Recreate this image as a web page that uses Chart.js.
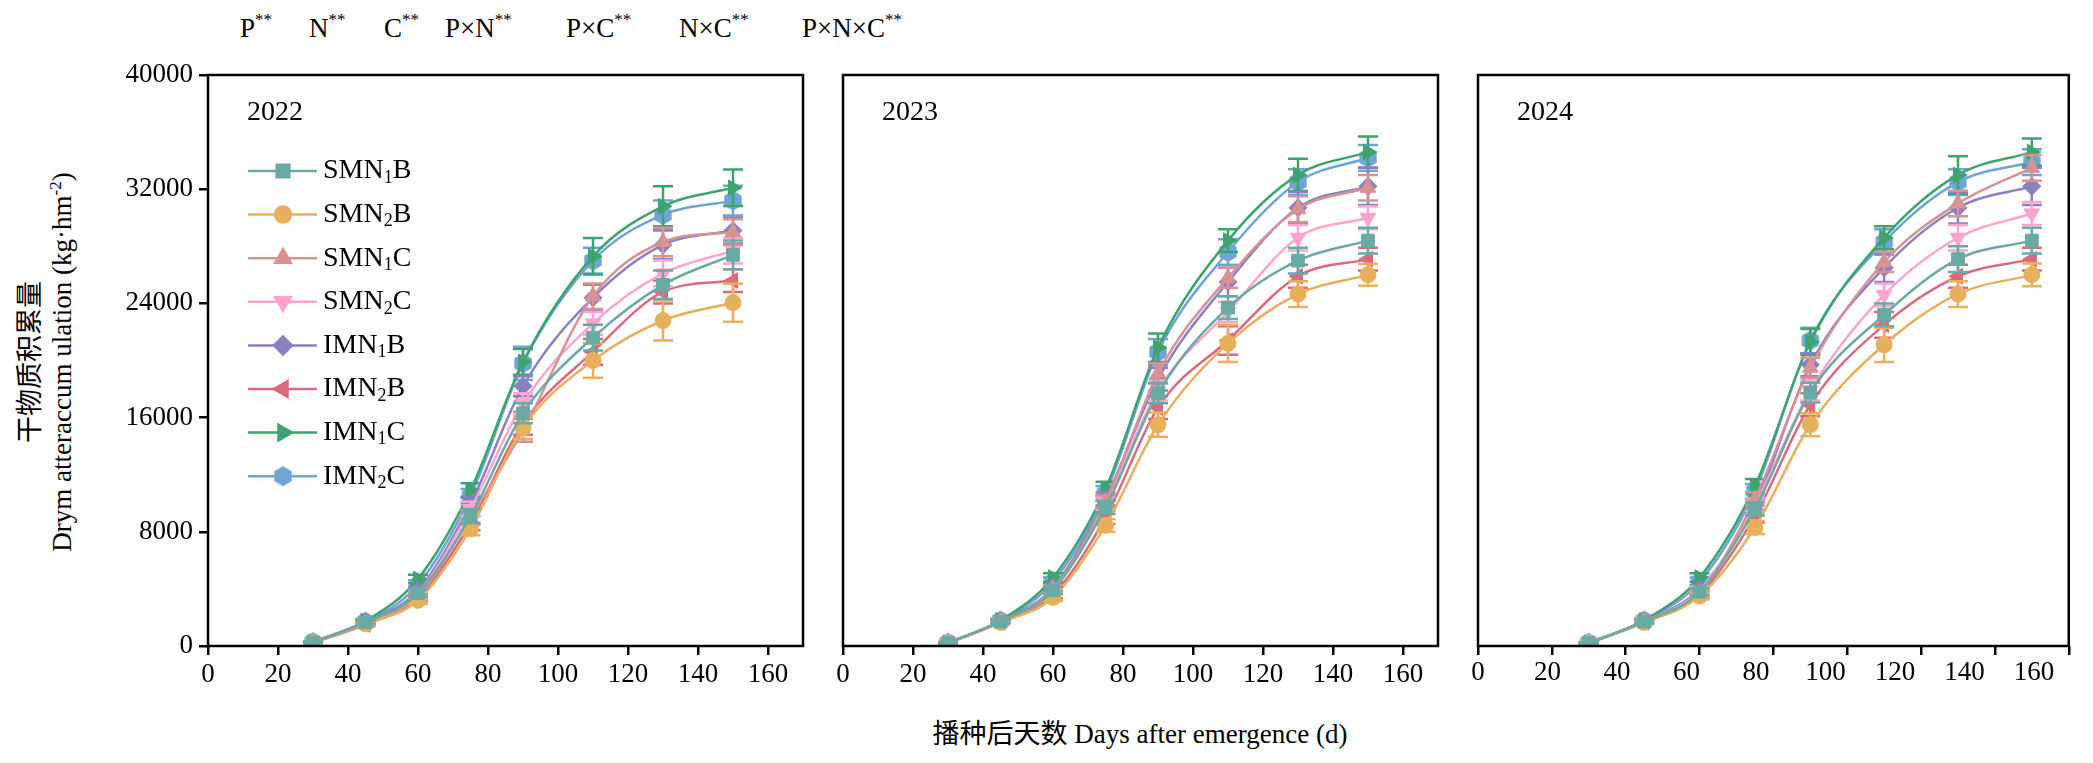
<!DOCTYPE html>
<html>
<head>
<meta charset="utf-8">
<script src="https://cdn.jsdelivr.net/npm/chart.js@4.4.1/dist/chart.umd.min.js"></script>
<style>
body { margin: 0; background: #fff; width: 2093px; height: 763px; position: relative; overflow: hidden;
       font-family: "Liberation Serif", "Noto Sans CJK SC", serif; color: #000; }
canvas { position: absolute; top: 0; }
.note { position: absolute; top: 12px; font-size: 27px; white-space: nowrap; }
.note sup { font-size: 17px; position: relative; top: -2px; }
.ytitle { position: absolute; font-size: 27px; white-space: nowrap; transform: translate(-50%, -50%) rotate(-90deg); top: 362px; }
.ytitle sup { font-size: 17px; }
.xtitle { position: absolute; font-size: 27px; white-space: nowrap; left: 1140px; top: 731px; transform: translate(-50%, -50%); }
</style>
</head>
<body>
<div class="note" style="left:240px">P<sup>**</sup></div>
<div class="note" style="left:309px">N<sup>**</sup></div>
<div class="note" style="left:384px">C<sup>**</sup></div>
<div class="note" style="left:445px">P×N<sup>**</sup></div>
<div class="note" style="left:566px">P×C<sup>**</sup></div>
<div class="note" style="left:679px">N×C<sup>**</sup></div>
<div class="note" style="left:802px">P×N×C<sup>**</sup></div>
<div class="ytitle" style="left:27px">干物质积累量</div>
<div class="ytitle" style="left:62px">Drym atteraccum ulation (kg·hm<sup>-2</sup>)</div>
<div class="xtitle">播种后天数 Days after emergence (d)</div>

<canvas id="c2022" width="830" height="763" style="left:0px;width:830px;height:763px"></canvas>
<canvas id="c2023" width="630" height="763" style="left:830px;width:630px;height:763px"></canvas>
<canvas id="c2024" width="628" height="763" style="left:1465px;width:628px;height:763px"></canvas>

<script>
// sampling days and axis ticks
const days = [30, 45, 60, 75, 90, 110, 130, 150];
const xTicks = [0, 20, 40, 60, 80, 100, 120, 140, 160];
const yTicks = [0, 8000, 16000, 24000, 32000, 40000];

const names = ['SMN1B', 'SMN2B', 'SMN1C', 'SMN2C', 'IMN1B', 'IMN2B', 'IMN1C', 'IMN2C'];
const colors = ['#6aaaa4', '#e9b05c', '#d99294', '#ffa3cf', '#8a80c2', '#dc6a7e', '#3ea46e', '#6da6d6'];

// rows follow the order of names
const mean2022 = [
  [250, 1650, 3700, 9100, 16300, 21600, 25300, 27400],
  [230, 1550, 3200, 8200, 15300, 20000, 22800, 24050],
  [260, 1600, 3500, 9000, 15100, 24500, 28300, 29000],
  [240, 1600, 3700, 9600, 17000, 22600, 26100, 27700],
  [260, 1700, 3900, 9950, 18200, 24400, 28100, 29100],
  [230, 1500, 3400, 8600, 15600, 20600, 24800, 25600],
  [280, 1750, 4700, 10900, 19900, 27300, 30800, 32100],
  [270, 1700, 4300, 10500, 19800, 27000, 30200, 31200]
];
const sd2022 = [
  [60, 120, 250, 500, 700, 900, 1000, 1000],
  [60, 120, 250, 450, 800, 1200, 1400, 1330],
  [60, 120, 250, 500, 800, 900, 1000, 900],
  [60, 120, 250, 500, 700, 800, 900, 900],
  [60, 120, 250, 500, 700, 900, 1000, 900],
  [60, 120, 250, 500, 800, 900, 800, 800],
  [60, 120, 300, 500, 900, 1280, 1400, 1280],
  [60, 120, 300, 500, 1170, 900, 1000, 1050]
];
const mean2023 = [
  [200, 1700, 3900, 9700, 17700, 23700, 27000, 28400],
  [190, 1650, 3400, 8450, 15500, 21200, 24650, 26000],
  [210, 1700, 4000, 10100, 19100, 25800, 30600, 32100],
  [200, 1700, 3900, 10000, 17900, 23400, 28600, 30000],
  [210, 1750, 4100, 10300, 18700, 25500, 30700, 32200],
  [190, 1650, 3600, 9000, 16700, 21400, 25900, 27100],
  [230, 1800, 4800, 11000, 20900, 28400, 33000, 34600],
  [220, 1780, 4500, 10700, 20600, 27600, 32500, 34200]
];
const sd2023 = [
  [50, 100, 250, 450, 700, 800, 900, 900],
  [50, 100, 250, 450, 850, 1300, 900, 760],
  [50, 100, 250, 450, 700, 700, 900, 900],
  [50, 100, 250, 450, 700, 700, 900, 800],
  [50, 100, 250, 450, 800, 1000, 1100, 1300],
  [50, 100, 250, 450, 800, 1000, 800, 800],
  [50, 100, 300, 500, 1000, 800, 1130, 1100],
  [50, 100, 300, 500, 900, 900, 900, 900]
];
const mean2024 = [
  [200, 1700, 3800, 9600, 17750, 23200, 27100, 28400],
  [190, 1650, 3500, 8300, 15500, 21100, 24650, 26000],
  [210, 1700, 3700, 10300, 19500, 26900, 31000, 33500],
  [200, 1700, 3900, 9900, 17900, 24600, 28600, 30300],
  [210, 1750, 4000, 9850, 19700, 26500, 30700, 32200],
  [190, 1650, 3600, 9100, 16900, 22500, 25900, 27100],
  [230, 1800, 4800, 11200, 21300, 28600, 33000, 34600],
  [220, 1780, 4500, 10850, 21400, 28300, 32500, 33900]
];
const sd2024 = [
  [50, 100, 250, 450, 700, 800, 900, 900],
  [50, 100, 250, 450, 800, 1200, 900, 800],
  [50, 100, 250, 450, 700, 700, 900, 900],
  [50, 100, 250, 450, 700, 800, 900, 800],
  [50, 100, 250, 450, 800, 1000, 1100, 1300],
  [50, 100, 250, 450, 800, 900, 800, 800],
  [50, 100, 300, 500, 900, 800, 1300, 950],
  [50, 100, 300, 500, 900, 900, 900, 900]
];

const FONT = '"Liberation Serif", "Noto Sans CJK SC", serif';
Chart.defaults.font.family = FONT;
Chart.defaults.color = '#000';

function hexagon(color, r) {
  const c = document.createElement('canvas');
  c.width = c.height = 2 * r + 2;
  const g = c.getContext('2d');
  g.fillStyle = color;
  g.beginPath();
  for (let k = 0; k < 6; k++) {
    const a = Math.PI / 3 * k - Math.PI / 2;
    const px = r + 1 + r * Math.cos(a), py = r + 1 + r * Math.sin(a);
    k ? g.lineTo(px, py) : g.moveTo(px, py);
  }
  g.closePath();
  g.fill();
  return c;
}

const pointStyles = ['rect', 'circle', 'triangle', 'triangle', 'rectRot', 'triangle', 'triangle', hexagon(colors[7], 10)];
const rotations = [0, 0, 0, 180, 0, 270, 90, 0];

function buildDatasets(means, sds) {
  return names.map((n, i) => ({
    label: n,
    data: days.map((d, j) => ({ x: d, y: means[i][j] })),
    sd: sds[i],
    borderColor: colors[i],
    backgroundColor: colors[i],
    pointBorderColor: colors[i],
    pointBackgroundColor: colors[i],
    pointStyle: pointStyles[i],
    pointRotation: rotations[i],
    pointRadius: i === 1 ? 8 : 9,
    pointBorderWidth: 1,
    borderWidth: 2.5,
    cubicInterpolationMode: 'monotone'
  }));
}

// error bars, box, year text, legend
const decor = {
  id: 'decor',
  beforeDatasetDraw(chart, args) {
    const ds = chart.data.datasets[args.index];
    const ys = chart.scales.y, ctx = chart.ctx;
    ctx.save();
    ctx.strokeStyle = ds.borderColor;
    ctx.lineWidth = 2.5;
    args.meta.data.forEach((pt, j) => {
      const v = ds.data[j].y, e = ds.sd[j];
      const t = ys.getPixelForValue(v + e), b = ys.getPixelForValue(v - e);
      ctx.beginPath();
      ctx.moveTo(pt.x, t); ctx.lineTo(pt.x, b);
      ctx.moveTo(pt.x - 10, t); ctx.lineTo(pt.x + 10, t);
      ctx.moveTo(pt.x - 10, b); ctx.lineTo(pt.x + 10, b);
      ctx.stroke();
    });
    ctx.restore();
  },
  afterDraw(chart, args, opts) {
    const a = chart.chartArea, ctx = chart.ctx;
    ctx.save();
    ctx.strokeStyle = '#000';
    ctx.lineWidth = 2.5;
    ctx.strokeRect(a.left, a.top, a.right - a.left, a.bottom - a.top);
    ctx.fillStyle = '#000';
    ctx.font = '28px ' + FONT;
    ctx.textBaseline = 'middle';
    ctx.textAlign = 'left';
    ctx.fillText(opts.year, a.left + 39, a.top + 38);

    if (opts.labelSpan) {
      const xs = chart.scales.x;
      ctx.font = '27px ' + FONT;
      ctx.textAlign = 'center';
      ctx.textBaseline = 'top';
      xTicks.forEach(v => {
        ctx.fillText(String(v), a.left + v / opts.labelSpan * (a.right - a.left), xs.top + 13);
      });
    }

    if (opts.legend) {
      chart.data.datasets.forEach((ds, i) => {
        const y = a.top + 96 + i * 43.6;
        const x0 = a.left + 40;
        ctx.strokeStyle = ds.borderColor;
        ctx.fillStyle = ds.borderColor;
        ctx.lineWidth = 2.5;
        ctx.beginPath();
        ctx.moveTo(x0, y); ctx.lineTo(x0 + 69, y);
        ctx.stroke();
        Chart.helpers.drawPoint(ctx, {
          pointStyle: ds.pointStyle, rotation: ds.pointRotation,
          radius: ds.pointRadius, borderWidth: 1
        }, x0 + 35, y);
        const m = ds.label.match(/^([A-Z]+)(\d)([A-Z])$/);
        let tx = x0 + 75;
        ctx.fillStyle = '#000';
        ctx.textAlign = 'left';
        ctx.textBaseline = 'middle';
        ctx.font = '28px ' + FONT;
        ctx.fillText(m[1], tx, y);
        tx += ctx.measureText(m[1]).width;
        ctx.font = '18px ' + FONT;
        ctx.fillText(m[2], tx, y + 7);
        tx += ctx.measureText(m[2]).width;
        ctx.font = '28px ' + FONT;
        ctx.fillText(m[3], tx, y);
      });
    }
    ctx.restore();
  }
};

function makePanel(id, year, means, sds, cfg) {
  new Chart(document.getElementById(id), {
    type: 'line',
    data: { datasets: buildDatasets(means, sds) },
    plugins: [decor],
    options: {
      responsive: false,
      animation: false,
      devicePixelRatio: 1,
      layout: { padding: { top: 75, right: cfg.padRight, left: 0, bottom: 0 } },
      plugins: {
        legend: { display: false },
        tooltip: { enabled: false },
        decor: { year: year, legend: cfg.legend, labelSpan: cfg.labelSpan }
      },
      scales: {
        x: {
          type: 'linear',
          min: 0,
          max: cfg.xMax,
          afterBuildTicks: axis => { axis.ticks = xTicks.map(v => ({ value: v })); },
          afterFit: s => { s.height = 117; },
          border: { display: false },
          grid: { drawOnChartArea: false, drawTicks: true, tickLength: 9, lineWidth: 2.5, color: '#000' },
          ticks: {
            color: cfg.labelSpan ? 'rgba(0,0,0,0)' : '#000',
            font: { family: FONT, size: 27 },
            padding: 4,
            maxRotation: 0,
            autoSkip: false
          }
        },
        y: {
          min: 0,
          max: 40000,
          afterBuildTicks: axis => { axis.ticks = yTicks.map(v => ({ value: v })); },
          afterFit: s => { s.width = cfg.yWidth; },
          border: { display: false },
          grid: { drawOnChartArea: false, drawTicks: cfg.yLabels, tickLength: 9, lineWidth: 2.5, color: '#000' },
          ticks: {
            display: cfg.yLabels,
            color: '#000',
            font: { family: FONT, size: 27 },
            padding: 6,
            callback: v => String(v)
          }
        }
      }
    }
  });
}

makePanel('c2022', '2022', mean2022, sd2022, { yWidth: 208, padRight: 27, xMax: 170, yLabels: true, legend: true, labelSpan: 0 });
makePanel('c2023', '2023', mean2023, sd2023, { yWidth: 13, padRight: 22, xMax: 170, yLabels: false, legend: false, labelSpan: 0 });
makePanel('c2024', '2024', mean2024, sd2024, { yWidth: 13, padRight: 17, xMax: 160, yLabels: false, legend: false, labelSpan: 170 });
</script>
</body>
</html>
